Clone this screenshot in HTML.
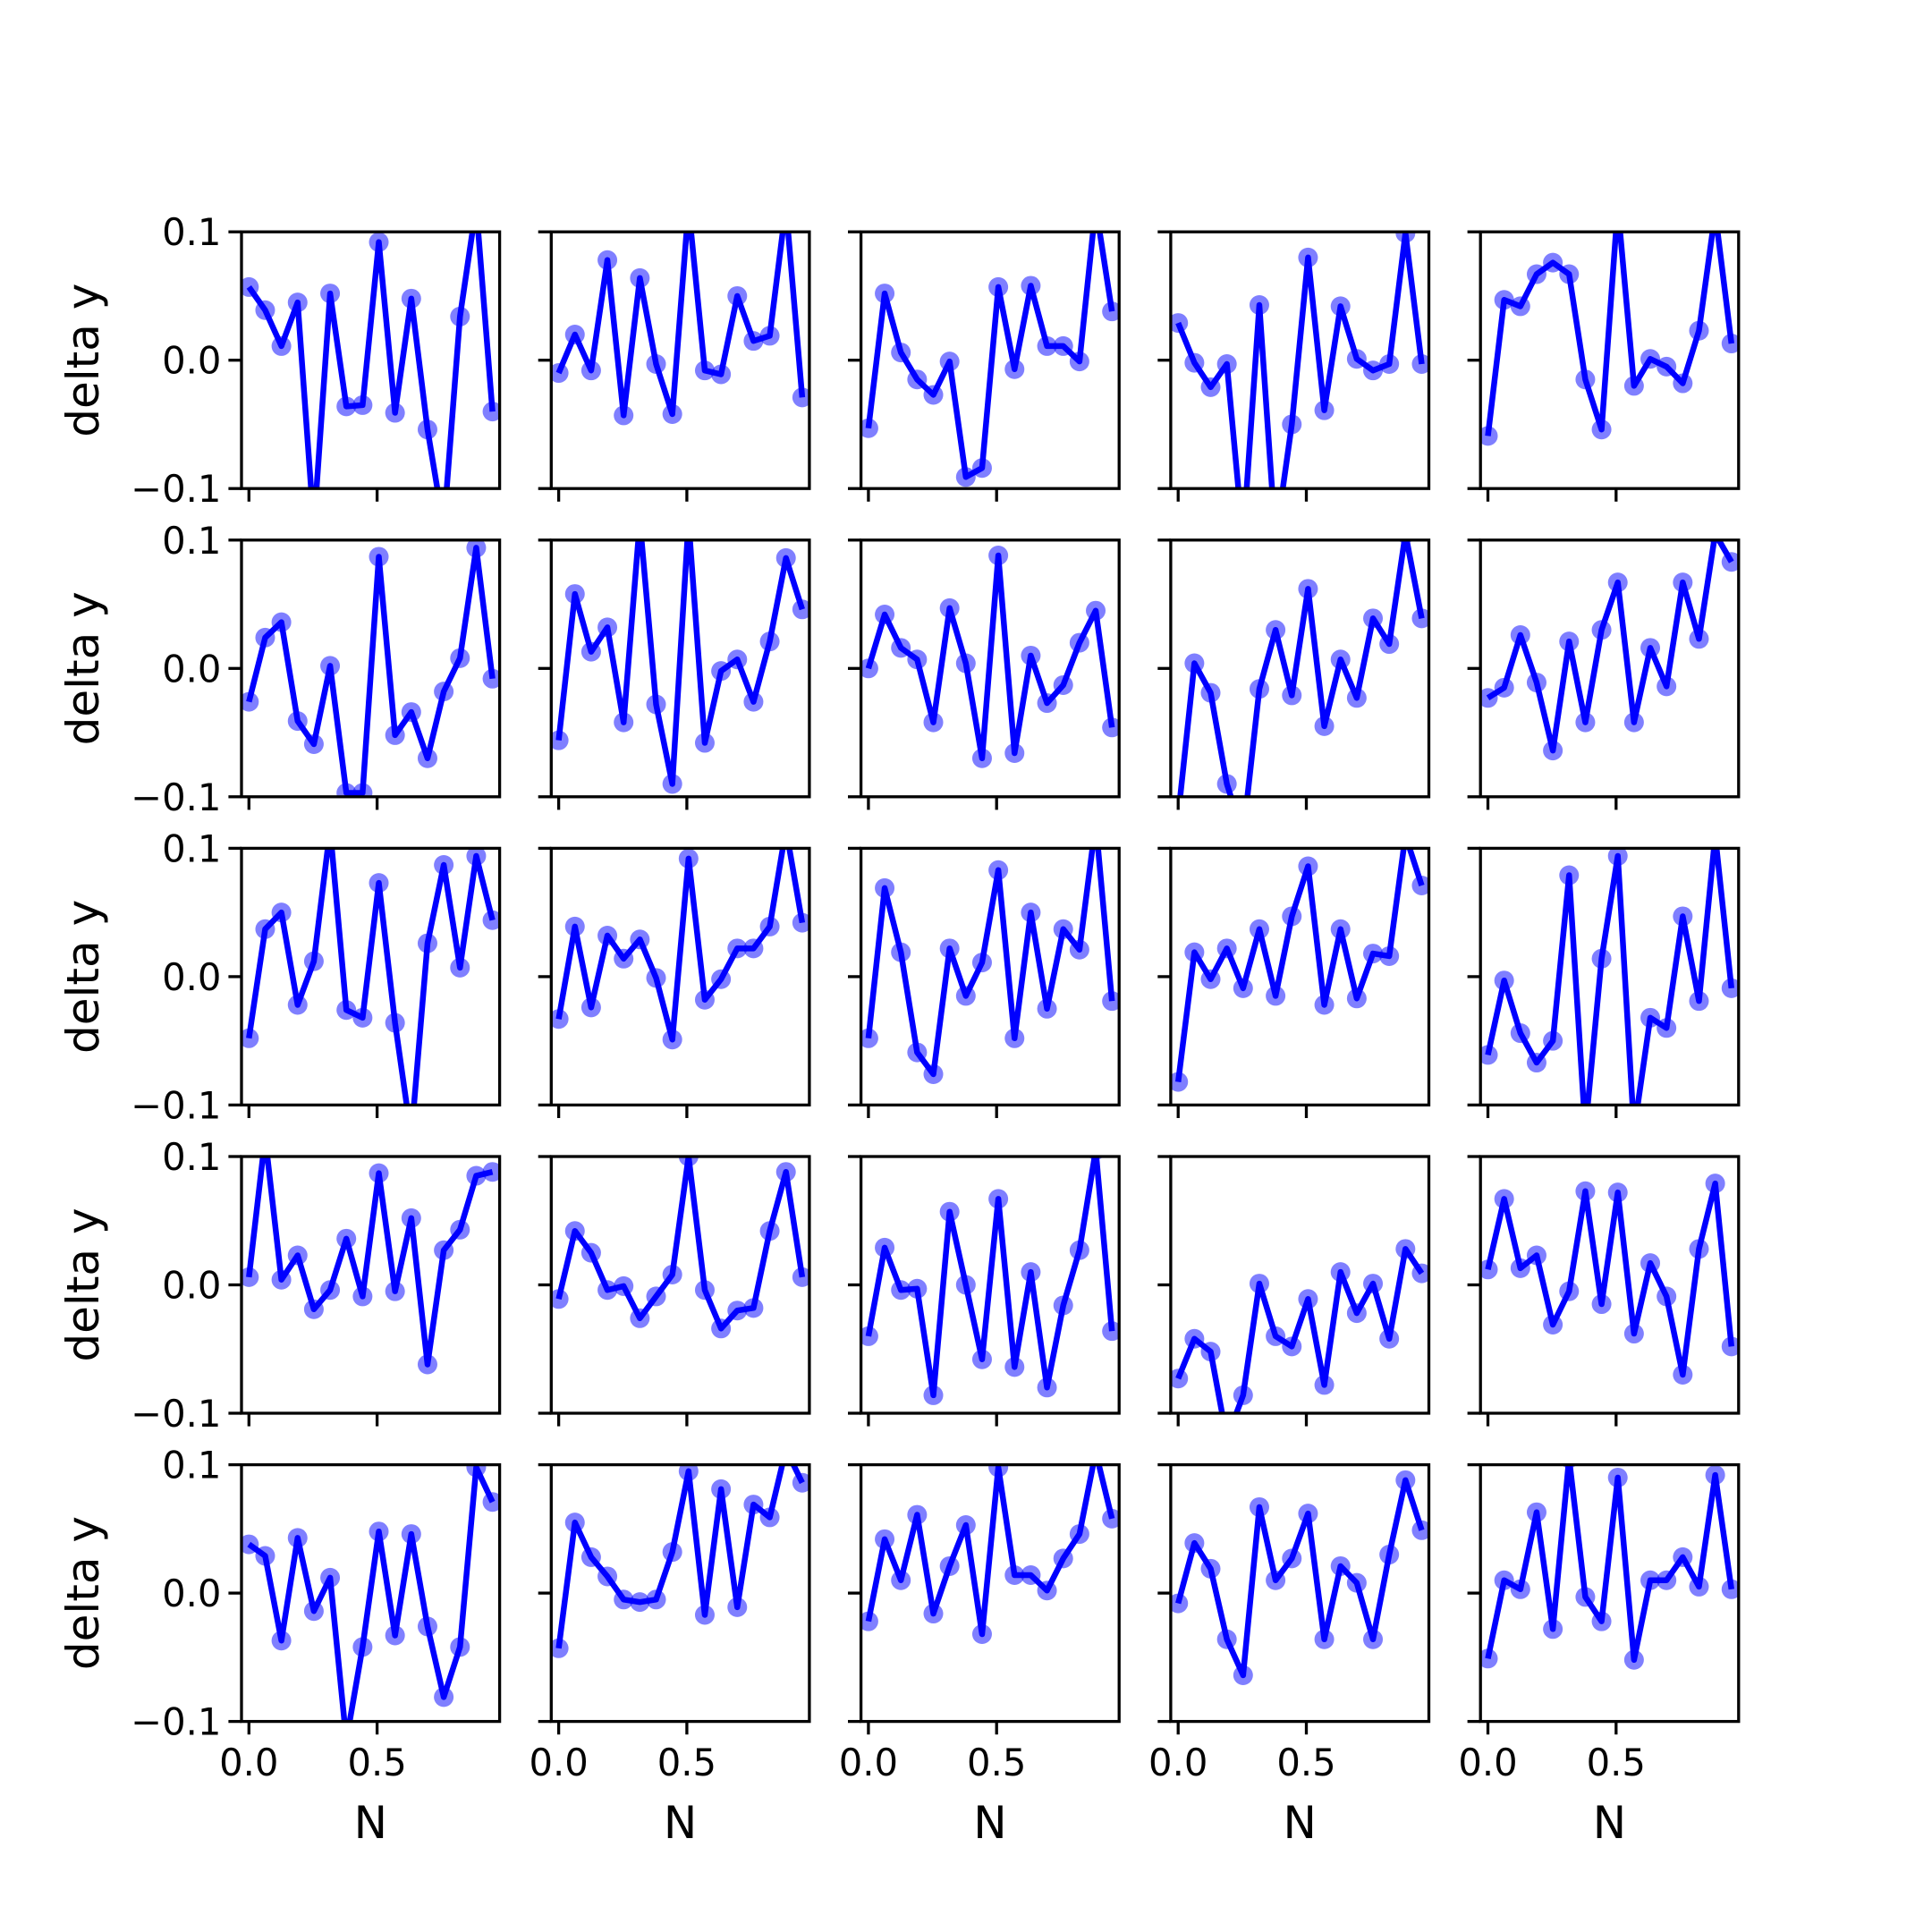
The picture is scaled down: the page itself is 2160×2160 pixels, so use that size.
<!DOCTYPE html>
<html><head><meta charset="utf-8"><style>
html,body{margin:0;padding:0;background:#fff;}
svg{display:block;}
text{font-family:"DejaVu Sans","Liberation Sans",sans-serif;fill:#000;}
</style></head><body>
<svg id="fig" xmlns="http://www.w3.org/2000/svg" width="2160" height="2160" viewBox="0 0 2160 2160">
<rect x="0" y="0" width="2160" height="2160" fill="#fff"/>
</svg>
<script>
const xTickValues = [0.0, 0.5];
const xTickLabels = ["0.0", "0.5"];
const yTickValues = [-0.1, 0.0, 0.1];
const yTickLabels = ["\u22120.1", "0.0", "0.1"];
const nPoints = 16;
const xStep = 0.95 / 15;
const r1c1 = [0.057,0.039,0.011,0.045,-0.13,0.052,-0.036,-0.035,0.092,-0.041,0.048,-0.054,-0.13,0.034,0.12,-0.040];
const r1c2 = [-0.010,0.020,-0.008,0.078,-0.043,0.064,-0.003,-0.042,0.12,-0.008,-0.011,0.050,0.015,0.019,0.12,-0.029];
const r1c3 = [-0.053,0.052,0.006,-0.015,-0.027,-0.001,-0.091,-0.084,0.057,-0.007,0.058,0.011,0.011,-0.001,0.12,0.038];
const r1c4 = [0.029,-0.002,-0.021,-0.003,-0.14,0.043,-0.14,-0.050,0.080,-0.039,0.042,0.001,-0.008,-0.003,0.099,-0.003];
const r1c5 = [-0.059,0.047,0.042,0.067,0.076,0.067,-0.015,-0.054,0.12,-0.020,0.001,-0.005,-0.018,0.023,0.115,0.013];
const r2c1 = [-0.026,0.024,0.036,-0.041,-0.059,0.002,-0.097,-0.097,0.087,-0.052,-0.034,-0.070,-0.018,0.008,0.094,-0.008];
const r2c2 = [-0.056,0.058,0.013,0.032,-0.042,0.115,-0.028,-0.090,0.115,-0.058,-0.002,0.007,-0.026,0.021,0.086,0.046];
const r2c3 = [0.000,0.042,0.016,0.007,-0.042,0.047,0.004,-0.070,0.088,-0.066,0.010,-0.027,-0.013,0.020,0.045,-0.046];
const r2c4 = [-0.115,0.004,-0.019,-0.090,-0.13,-0.016,0.030,-0.021,0.062,-0.045,0.007,-0.023,0.039,0.019,0.105,0.039];
const r2c5 = [-0.023,-0.015,0.026,-0.011,-0.064,0.021,-0.042,0.030,0.067,-0.042,0.016,-0.014,0.067,0.023,0.105,0.083];
const r3c1 = [-0.048,0.037,0.050,-0.022,0.012,0.115,-0.026,-0.032,0.073,-0.036,-0.125,0.026,0.087,0.007,0.094,0.044];
const r3c2 = [-0.033,0.039,-0.024,0.032,0.014,0.029,-0.001,-0.049,0.092,-0.018,-0.002,0.022,0.022,0.039,0.115,0.042];
const r3c3 = [-0.048,0.069,0.019,-0.059,-0.076,0.022,-0.015,0.011,0.083,-0.048,0.050,-0.025,0.037,0.021,0.12,-0.019];
const r3c4 = [-0.082,0.019,-0.002,0.022,-0.009,0.037,-0.015,0.047,0.086,-0.022,0.037,-0.017,0.018,0.016,0.11,0.071];
const r3c5 = [-0.061,-0.003,-0.044,-0.067,-0.050,0.079,-0.12,0.014,0.094,-0.12,-0.032,-0.040,0.047,-0.019,0.11,-0.009];
const r4c1 = [0.006,0.115,0.004,0.023,-0.019,-0.004,0.036,-0.009,0.087,-0.005,0.052,-0.062,0.027,0.043,0.085,0.088];
const r4c2 = [-0.011,0.042,0.025,-0.004,-0.001,-0.026,-0.009,0.008,0.100,-0.004,-0.034,-0.020,-0.018,0.042,0.088,0.006];
const r4c3 = [-0.040,0.029,-0.004,-0.003,-0.086,0.057,0.000,-0.058,0.067,-0.064,0.010,-0.080,-0.016,0.027,0.105,-0.036];
const r4c4 = [-0.073,-0.042,-0.052,-0.12,-0.086,0.001,-0.040,-0.048,-0.011,-0.078,0.010,-0.022,0.001,-0.042,0.028,0.009];
const r4c5 = [0.012,0.067,0.013,0.023,-0.031,-0.005,0.073,-0.015,0.072,-0.038,0.017,-0.009,-0.070,0.028,0.079,-0.048];
const r5c1 = [0.038,0.029,-0.037,0.043,-0.014,0.012,-0.115,-0.042,0.048,-0.033,0.046,-0.026,-0.081,-0.042,0.098,0.071];
const r5c2 = [-0.043,0.055,0.028,0.013,-0.005,-0.007,-0.005,0.032,0.095,-0.017,0.081,-0.011,0.069,0.059,0.112,0.086];
const r5c3 = [-0.022,0.042,0.010,0.061,-0.016,0.021,0.053,-0.032,0.098,0.014,0.014,0.002,0.027,0.046,0.11,0.058];
const r5c4 = [-0.008,0.039,0.019,-0.036,-0.064,0.067,0.010,0.027,0.062,-0.036,0.021,0.008,-0.036,0.030,0.088,0.049];
const r5c5 = [-0.051,0.010,0.003,0.063,-0.028,0.105,-0.003,-0.022,0.090,-0.052,0.010,0.010,0.028,0.005,0.092,0.003];
const panels = [
  [r1c1,r1c2,r1c3,r1c4,r1c5],
  [r2c1,r2c2,r2c3,r2c4,r2c5],
  [r3c1,r3c2,r3c3,r3c4,r3c5],
  [r4c1,r4c2,r4c3,r4c4,r4c5],
  [r5c1,r5c2,r5c3,r5c4,r5c5]
];

const NS = "http://www.w3.org/2000/svg";
const svg = document.getElementById("fig");
const X_MIN = -0.029, X_MAX = 0.978, Y_MIN = -0.1, Y_MAX = 0.1;
const AX_W = 288.6, AX_H = 287, COL_STEP = 346.3, ROW_STEP = 344.6, LEFT = 270, TOP = 259.2;
const TICK = 14.6;
function mk(tag, attrs, parent) {
  const e = document.createElementNS(NS, tag);
  for (const k in attrs) e.setAttribute(k, attrs[k]);
  (parent || svg).appendChild(e);
  return e;
}
const defs = mk("defs", {});
for (let r = 0; r < 5; r++) {
  for (let c = 0; c < 5; c++) {
    const x0 = LEFT + c * COL_STEP, y0 = TOP + r * ROW_STEP;
    const sx = v => x0 + (v - X_MIN) / (X_MAX - X_MIN) * AX_W;
    const sy = v => y0 + (Y_MAX - v) / (Y_MAX - Y_MIN) * AX_H;
    const g = mk("g", {});
    
    
    const cp = mk("clipPath", {id: "cp" + r + c}, defs);
    mk("rect", {x: x0, y: y0, width: AX_W, height: AX_H}, cp);
    const data = panels[r][c];
    const plot = mk("g", {"clip-path": "url(#cp" + r + c + ")"}, g);
    for (let i = 0; i < nPoints; i++) {
      const m = mk("circle", {cx: sx(i * xStep), cy: sy(data[i]), r: 11, fill: "rgba(0,0,255,0.5)"}, plot);
      
      
    }
    let d = "";
    for (let i = 0; i < nPoints; i++) d += (i ? "L" : "M") + sx(i * xStep).toFixed(2) + " " + sy(data[i]).toFixed(2);
    const ln = mk("path", {d: d, fill: "none", stroke: "#0000ff", "stroke-width": 6.5, "stroke-linejoin": "round", "stroke-linecap": "butt"}, plot);
    
    
    const fr = mk("rect", {x: x0, y: y0, width: AX_W, height: AX_H, fill: "none", stroke: "#000", "stroke-width": 3.3}, g);
    
    
    yTickValues.forEach((v, k) => {
      const t = mk("line", {x1: x0, x2: x0 - TICK, y1: sy(v), y2: sy(v), stroke: "#000", "stroke-width": 3.3}, g);
      
      
      if (c === 0) {
        const tl = mk("text", {x: x0 - TICK - 8, y: sy(v) + 15, "text-anchor": "end", "font-size": 41.7}, g);
        tl.textContent = yTickLabels[k];
        
        
      }
    });
    xTickValues.forEach((v, k) => {
      const t = mk("line", {x1: sx(v), x2: sx(v), y1: y0 + AX_H, y2: y0 + AX_H + TICK, stroke: "#000", "stroke-width": 3.3}, g);
      
      
      if (r === 4) {
        const tl = mk("text", {x: sx(v), y: y0 + AX_H + TICK + 46, "text-anchor": "middle", "font-size": 41.7}, g);
        tl.textContent = xTickLabels[k];
        
        
      }
    });
    if (c === 0) {
      const cy = y0 + AX_H / 2;
      const yl = mk("text", {x: 93, y: cy, "text-anchor": "middle", "font-size": 50, transform: "rotate(-90 93 " + cy + ") translate(0 17)"}, g);
      yl.textContent = "delta y";
      
      
    }
    if (r === 4) {
      const xl = mk("text", {x: x0 + AX_W / 2, y: 2055, "text-anchor": "middle", "font-size": 50}, g);
      xl.textContent = "N";
      
      
    }
  }
}
</script>
</body></html>
